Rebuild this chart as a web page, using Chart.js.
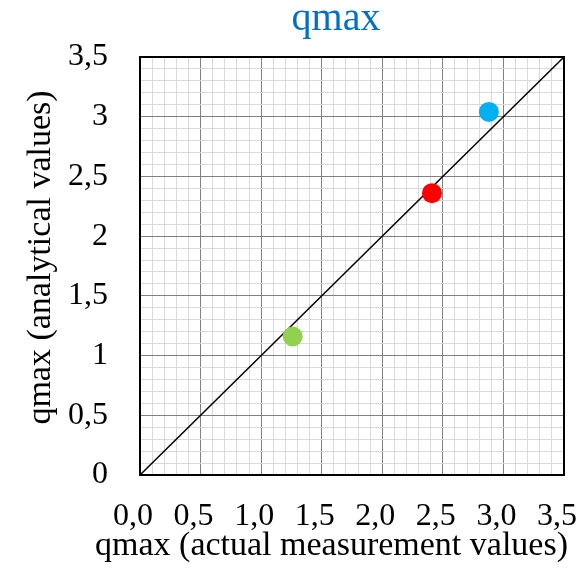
<!DOCTYPE html>
<html>
<head>
<meta charset="utf-8">
<script src="https://cdn.jsdelivr.net/npm/chart.js@4/dist/chart.umd.min.js"></script>
<style>
  html, body { margin: 0; padding: 0; background: #fff; }
  #wrap { width: 584px; height: 568px; }
</style>
</head>
<body>
<div id="wrap"><canvas id="qmaxChart"></canvas></div>
<script>
// valores medidos x valores analíticos
const measured = [1.26, 2.41, 2.88];
const analytical = [1.16, 2.36, 3.04];
const pointColors = ['#92D050', '#FF0000', '#00B0F0'];

// linha y = x
const lineX = [0, 3.5];
const lineY = [0, 3.5];

const axisMin = 0;
const axisMax = 3.5;

const chartTitle = 'qmax';
const xTitle = 'qmax (actual measurement values)';
const yTitle = 'qmax (analytical values)';

function isMajor(v) {
  return Math.abs(v * 2 - Math.round(v * 2)) < 1e-6;
}

const serif = '"Liberation Serif", "Times New Roman", serif';

// moldura preta e títulos desenhados à mão (posição igual ao Excel)
const framePlugin = {
  id: 'frame',
  afterDraw(chart) {
    const a = chart.chartArea;
    const ctx = chart.ctx;
    ctx.save();
    ctx.strokeStyle = '#000';
    ctx.lineWidth = 2;
    ctx.strokeRect(a.left, a.top, a.right - a.left, a.bottom - a.top);

    ctx.textAlign = 'center';
    ctx.textBaseline = 'alphabetic';

    ctx.fillStyle = '#0070C0';
    ctx.font = '40px ' + serif;
    ctx.fillText(chartTitle, 336, 29.5);

    ctx.fillStyle = '#000';
    ctx.font = '34px ' + serif;
    ctx.fillText(xTitle, 331.5, 555);

    ctx.translate(50, 257.5);
    ctx.rotate(-Math.PI / 2);
    ctx.fillText(yTitle, 0, 0);
    ctx.restore();
  }
};

const ctx = document.getElementById('qmaxChart').getContext('2d');
new Chart(ctx, {
  data: {
    datasets: [
      {
        type: 'scatter',
        data: measured.map((x, i) => ({ x: x, y: analytical[i] })),
        pointBackgroundColor: pointColors,
        pointBorderWidth: 0,
        pointRadius: 10
      },
      {
        type: 'line',
        data: lineX.map((x, i) => ({ x: x, y: lineY[i] })),
        borderColor: '#000',
        borderWidth: 1.5,
        pointRadius: 0,
        fill: false
      }
    ]
  },
  options: {
    responsive: true,
    maintainAspectRatio: false,
    animation: false,
    layout: { padding: { top: 57, right: 20, bottom: 0, left: 0 } },
    plugins: {
      legend: { display: false },
      tooltip: { enabled: false },
      title: { display: false }
    },
    scales: {
      x: {
        type: 'linear',
        min: axisMin,
        max: axisMax,
        afterFit(scale) {
          scale.height = 93;
          scale.paddingLeft = 0;
          scale.paddingRight = 0;
        },
        border: { display: false },
        grid: {
          drawTicks: false,
          color: c => isMajor(c.tick.value) ? '#808080' : '#d9d9d9',
          lineWidth: 1
        },
        ticks: {
          stepSize: 0.1,
          autoSkip: false,
          maxRotation: 0,
          padding: 22,
          labelOffset: -7,
          color: '#000',
          font: { family: serif, size: 32 },
          callback: v => isMajor(v) ? v.toFixed(1).replace('.', ',') : ''
        }
      },
      y: {
        type: 'linear',
        min: axisMin,
        max: axisMax,
        afterFit(scale) {
          scale.width = 140;
          scale.paddingTop = 0;
          scale.paddingBottom = 0;
        },
        border: { display: false },
        grid: {
          drawTicks: false,
          color: c => isMajor(c.tick.value) ? '#808080' : '#d9d9d9',
          lineWidth: 1
        },
        ticks: {
          stepSize: 0.1,
          autoSkip: false,
          padding: 32,
          color: '#000',
          font: { family: serif, size: 32 },
          callback: v => isMajor(v) ? String(Math.round(v * 10) / 10).replace('.', ',') : ''
        }
      }
    }
  },
  plugins: [framePlugin]
});
</script>
</body>
</html>
